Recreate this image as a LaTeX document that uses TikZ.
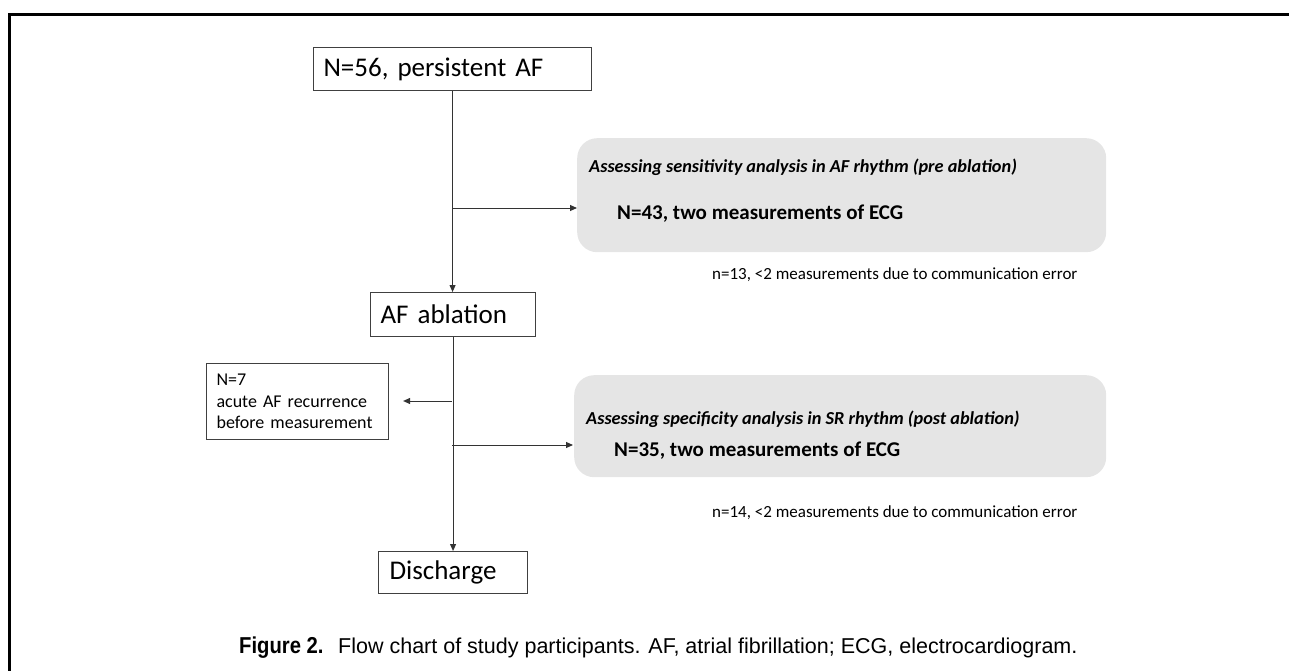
\documentclass[tikz,border=0pt]{standalone}
\usepackage{fontspec}
\setmainfont{Carlito}
\newfontfamily\capfont{Liberation Sans}
\newfontfamily\capcond[FakeStretch=0.88]{Liberation Sans}
\usetikzlibrary{arrows.meta}
\begin{document}
\begin{tikzpicture}[x=1pt,y=-1pt,
  box/.style={draw=black!75, line width=1.1pt, fill=white, anchor=north west,
    inner xsep=10pt, inner ysep=0pt, align=left, font=\fontsize{27}{32}\selectfont},
  gbox/.style={fill=black!10, draw=none, rounded corners=20pt, anchor=north west, inner sep=0pt},
  txt/.style={anchor=base west, inner sep=0pt},
  ttl/.style={txt, font=\fontsize{18.3}{22}\selectfont\bfseries\itshape},
  big/.style={txt, font=\fontsize{21}{25}\selectfont\bfseries},
  note/.style={txt, font=\fontsize{17}{20}\selectfont},
  arr/.style={-{Triangle[length=7pt,width=6pt]}, draw=black!80, line width=1pt}]
\useasboundingbox (0,0) rectangle (1289,671);
% frame
\draw[line width=2.5pt] (9.5,671) -- (9.5,14.5) -- (1289,14.5);
% boxes
\node[box, text width=258pt, minimum height=43pt] (b1) at (313,47) {N=56, persistent AF};
\node[box, text width=145pt, minimum height=44pt] (abl) at (370,292) {AF ablation};
\node[box, inner xsep=11pt, text width=127pt, minimum height=42pt] (dis) at (378,551) {Discharge};
\node[box, text width=162pt, minimum height=76pt, font=\fontsize{18}{21.6}\selectfont] (n7) at (206,363) {N=7\\acute AF recurrence\\before measurement};
% gray boxes
\node[gbox, minimum width=529pt, minimum height=114pt] (g1) at (577,138) {};
\node[gbox, minimum width=532pt, minimum height=102pt] (g2) at (574,375) {};
\node[ttl] (g1t) at (589,173) {Assessing sensitivity analysis in AF rhythm (pre ablation)};
\node[big] (g1n) at (617,219) {N=43, two measurements of ECG};
\node[ttl] (g2t) at (586,424) {Assessing specificity analysis in SR rhythm (post ablation)};
\node[big] (g2n) at (614,456) {N=35, two measurements of ECG};
\node[note] (e1) at (712,279) {n=13, <2 measurements due to communication error};
\node[note] (e2) at (712,517) {n=14, <2 measurements due to communication error};
% connectors
\coordinate (j1) at (452,208);
\coordinate (j2) at (452,401);
\coordinate (j3) at (452,445);
\draw[arr] (b1.south) -- (b1.south |- abl.north);
\draw[arr] (j1) -- (j1 -| g1.west);
\draw[arr] (abl.south) -- (abl.south |- dis.north);
\draw[arr] (j2) -- ([xshift=14pt]n7.east |- j2);
\draw[arr] (j3) -- ([xshift=-1pt]j3 -| g2.west);
% caption
\node[txt, font=\capcond\bfseries\fontsize{23}{27}\selectfont] (figlbl) at (239,653) {Figure 2.};
\node[txt, font=\capfont\fontsize{21.5}{26}\selectfont] (cap) at (338,653) {Flow chart of study participants. AF, atrial fibrillation; ECG, electrocardiogram.};
\end{tikzpicture}
\end{document}
